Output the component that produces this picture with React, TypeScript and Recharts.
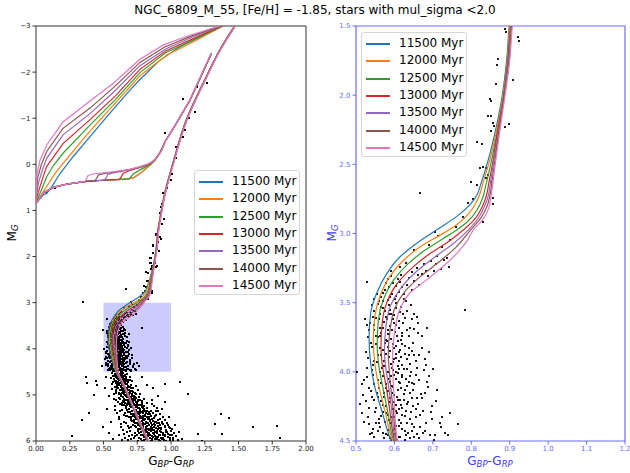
import React from "react";
import { ScatterChart, Scatter, XAxis, YAxis, ReferenceArea } from "recharts";

type P = [number, number];

// isochrone ages and matplotlib tab10 colours
const ages = ["11500 Myr", "12000 Myr", "12500 Myr", "13000 Myr", "13500 Myr", "14000 Myr", "14500 Myr"];
const colors = ["#1f77b4", "#ff7f0e", "#2ca02c", "#d62728", "#9467bd", "#8c564b", "#e377c2"];

// main sequence -> turnoff -> red giant branch, [colour, M_G]
const main11500: P[] = [[0.825,6.0],[0.765,5.62],[0.703,5.18],[0.637,4.75],[0.590,4.49],[0.567,4.28],[0.549,4.11],[0.538,3.94],[0.534,3.75],[0.538,3.58],[0.554,3.43],[0.580,3.29],[0.614,3.17],[0.658,3.07],[0.712,2.97],[0.770,2.86],[0.800,2.78],[0.815,2.72],[0.824,2.65],[0.844,2.47],[0.861,2.28],[0.879,2.03],[0.892,1.75],[0.899,1.50],[0.915,1.21],[0.955,0.60],[1.013,-0.02],[1.112,-0.96],[1.260,-1.90],[1.360,-2.48],[1.470,-3.0]];
const main12000: P[] = [[0.827,6.0],[0.767,5.62],[0.705,5.18],[0.640,4.75],[0.594,4.49],[0.575,4.28],[0.559,4.10],[0.549,3.94],[0.545,3.77],[0.549,3.60],[0.563,3.45],[0.588,3.31],[0.625,3.19],[0.670,3.09],[0.720,3.01],[0.760,2.94],[0.792,2.86],[0.812,2.78],[0.824,2.70],[0.832,2.62],[0.848,2.47],[0.864,2.28],[0.881,2.03],[0.894,1.75],[0.900,1.50],[0.916,1.21],[0.956,0.60],[1.014,-0.02],[1.113,-0.96],[1.261,-1.90],[1.361,-2.48],[1.471,-3.0]];
const main12500: P[] = [[0.829,6.0],[0.769,5.62],[0.707,5.18],[0.642,4.75],[0.597,4.49],[0.582,4.28],[0.569,4.10],[0.559,3.95],[0.555,3.80],[0.558,3.63],[0.571,3.48],[0.597,3.34],[0.635,3.22],[0.680,3.12],[0.725,3.04],[0.762,2.975],[0.792,2.91],[0.815,2.83],[0.830,2.74],[0.838,2.65],[0.852,2.48],[0.866,2.29],[0.883,2.02],[0.895,1.75],[0.902,1.50],[0.917,1.21],[0.957,0.60],[1.015,-0.02],[1.114,-0.96],[1.262,-1.90],[1.362,-2.48],[1.472,-3.0]];
const main13000: P[] = [[0.830,6.0],[0.770,5.62],[0.708,5.18],[0.644,4.75],[0.600,4.49],[0.588,4.28],[0.578,4.10],[0.569,3.96],[0.565,3.82],[0.568,3.65],[0.580,3.50],[0.605,3.37],[0.645,3.25],[0.690,3.15],[0.740,3.06],[0.779,2.975],[0.808,2.90],[0.828,2.81],[0.840,2.72],[0.846,2.63],[0.855,2.50],[0.867,2.29],[0.884,2.02],[0.896,1.75],[0.903,1.50],[0.918,1.21],[0.958,0.60],[1.016,-0.02],[1.115,-0.96],[1.263,-1.90],[1.363,-2.48],[1.473,-3.0]];
const main13500: P[] = [[0.832,6.0],[0.772,5.62],[0.709,5.18],[0.645,4.75],[0.602,4.49],[0.593,4.28],[0.585,4.11],[0.578,3.98],[0.574,3.85],[0.578,3.67],[0.590,3.52],[0.615,3.40],[0.655,3.28],[0.700,3.18],[0.750,3.08],[0.792,2.975],[0.818,2.89],[0.835,2.80],[0.845,2.72],[0.850,2.63],[0.857,2.50],[0.869,2.30],[0.885,2.01],[0.897,1.75],[0.904,1.50],[0.919,1.21],[0.959,0.60],[1.017,-0.02],[1.116,-0.96],[1.264,-1.90],[1.364,-2.48],[1.474,-3.0]];
const main14000: P[] = [[0.834,6.0],[0.774,5.62],[0.711,5.18],[0.646,4.75],[0.605,4.49],[0.597,4.28],[0.590,4.10],[0.586,3.97],[0.584,3.87],[0.589,3.69],[0.601,3.54],[0.627,3.42],[0.668,3.31],[0.714,3.21],[0.760,3.10],[0.798,2.975],[0.824,2.89],[0.840,2.81],[0.849,2.72],[0.855,2.60],[0.859,2.52],[0.870,2.30],[0.886,2.00],[0.898,1.75],[0.905,1.50],[0.920,1.21],[0.960,0.60],[1.018,-0.02],[1.117,-0.96],[1.265,-1.90],[1.365,-2.48],[1.475,-3.0]];
const main14500: P[] = [[0.836,6.0],[0.776,5.62],[0.712,5.18],[0.648,4.75],[0.607,4.49],[0.601,4.28],[0.597,4.08],[0.595,3.89],[0.601,3.70],[0.614,3.55],[0.640,3.43],[0.686,3.33],[0.730,3.23],[0.770,3.12],[0.790,3.05],[0.805,2.975],[0.830,2.90],[0.845,2.82],[0.852,2.72],[0.860,2.55],[0.872,2.30],[0.888,2.00],[0.900,1.75],[0.907,1.50],[0.921,1.21],[0.961,0.60],[1.019,-0.02],[1.118,-0.96],[1.266,-1.90],[1.366,-2.48],[1.476,-3.0]];

// horizontal branch -> AGB
const hb11500: P[] = [[0.0,0.85],[0.054,0.62],[0.128,0.50],[0.227,0.43],[0.375,0.37],[0.523,0.34],[0.672,0.32],[0.725,0.29],[0.775,0.19],[0.815,0.09],[0.845,0.01],[0.875,-0.08],[0.92,-0.26],[0.956,-0.49],[1.04,-0.89],[1.14,-1.39],[1.22,-1.90],[1.30,-2.41]];
const hb12000: P[] = [[0.0,0.85],[0.054,0.62],[0.128,0.50],[0.227,0.43],[0.375,0.37],[0.523,0.34],[0.672,0.32],[0.715,0.30],[0.765,0.21],[0.810,0.10],[0.845,0.02],[0.875,-0.07],[0.92,-0.26],[0.956,-0.49],[1.04,-0.89],[1.14,-1.39],[1.22,-1.90],[1.30,-2.41]];
const hb12500: P[] = [[0.0,0.85],[0.054,0.62],[0.128,0.50],[0.227,0.43],[0.375,0.37],[0.523,0.34],[0.690,0.315],[0.705,0.26],[0.725,0.20],[0.770,0.12],[0.815,0.05],[0.850,-0.01],[0.880,-0.08],[0.92,-0.26],[0.956,-0.49],[1.04,-0.89],[1.14,-1.39],[1.22,-1.90],[1.30,-2.41]];
const hb13000: P[] = [[0.0,0.85],[0.054,0.62],[0.128,0.50],[0.227,0.43],[0.375,0.37],[0.523,0.34],[0.615,0.33],[0.630,0.28],[0.645,0.20],[0.690,0.14],[0.760,0.08],[0.820,0.02],[0.855,-0.04],[0.885,-0.11],[0.92,-0.26],[0.956,-0.49],[1.04,-0.89],[1.14,-1.39],[1.22,-1.90],[1.30,-2.41]];
const hb13500: P[] = [[0.0,0.85],[0.054,0.62],[0.128,0.50],[0.227,0.43],[0.375,0.37],[0.505,0.345],[0.518,0.30],[0.532,0.22],[0.560,0.19],[0.650,0.14],[0.760,0.07],[0.820,0.01],[0.860,-0.05],[0.890,-0.13],[0.92,-0.26],[0.956,-0.49],[1.04,-0.89],[1.14,-1.39],[1.22,-1.90],[1.30,-2.41]];
const hb14000: P[] = [[0.0,0.85],[0.054,0.62],[0.128,0.50],[0.227,0.43],[0.375,0.37],[0.435,0.36],[0.448,0.31],[0.462,0.23],[0.500,0.20],[0.600,0.16],[0.700,0.11],[0.780,0.05],[0.830,0.0],[0.865,-0.06],[0.895,-0.14],[0.925,-0.28],[0.956,-0.49],[1.04,-0.89],[1.14,-1.39],[1.22,-1.90],[1.30,-2.41]];
const hb14500: P[] = [[0.0,0.85],[0.054,0.62],[0.128,0.50],[0.227,0.43],[0.360,0.375],[0.372,0.33],[0.385,0.24],[0.420,0.21],[0.550,0.17],[0.680,0.12],[0.770,0.05],[0.830,-0.01],[0.870,-0.08],[0.900,-0.16],[0.930,-0.30],[0.960,-0.50],[1.04,-0.90],[1.14,-1.40],[1.22,-1.91],[1.30,-2.42]];

// hot upper branches rising from the blue end of the HB
const up11500: P[] = [[0.0,0.85],[0.054,0.66],[0.079,0.63],[0.116,0.49],[0.178,0.20],[0.276,-0.17],[0.40,-0.60],[0.548,-1.11],[0.696,-1.61],[0.77,-1.84],[0.919,-2.26],[1.067,-2.55],[1.215,-2.77],[1.39,-3.0]];
const up12000: P[] = [[0.0,0.85],[0.030,0.70],[0.079,0.48],[0.14,0.20],[0.20,-0.02],[0.40,-0.72],[0.59,-1.34],[0.77,-1.92],[0.97,-2.37],[1.18,-2.68],[1.385,-3.0]];
const up12500: P[] = [[0.0,0.85],[0.015,0.72],[0.040,0.56],[0.079,0.27],[0.13,0.02],[0.20,-0.24],[0.40,-0.85],[0.59,-1.41],[0.77,-1.99],[0.96,-2.42],[1.17,-2.70],[1.38,-3.0]];
const up13000: P[] = [[0.0,0.85],[0.008,0.70],[0.028,0.50],[0.055,0.25],[0.079,0.05],[0.20,-0.45],[0.40,-0.97],[0.59,-1.49],[0.77,-2.06],[0.96,-2.46],[1.16,-2.72],[1.375,-3.0]];
const up13500: P[] = [[0.0,0.85],[0.005,0.65],[0.018,0.40],[0.048,0.12],[0.079,-0.13],[0.20,-0.64],[0.40,-1.10],[0.58,-1.58],[0.77,-2.14],[0.96,-2.50],[1.15,-2.75],[1.37,-3.0]];
const up14000: P[] = [[0.0,0.85],[0.003,0.60],[0.012,0.30],[0.040,0.0],[0.079,-0.28],[0.20,-0.78],[0.40,-1.22],[0.58,-1.68],[0.77,-2.21],[0.95,-2.54],[1.14,-2.77],[1.365,-3.0]];
const up14500: P[] = [[0.0,0.85],[0.002,0.50],[0.008,0.20],[0.030,-0.09],[0.079,-0.42],[0.20,-0.92],[0.375,-1.32],[0.573,-1.76],[0.77,-2.28],[0.944,-2.59],[1.14,-2.80],[1.36,-3.0]];

const mains = [main11500, main12000, main12500, main13000, main13500, main14000, main14500];
const hbs = [hb11500, hb12000, hb12500, hb13000, hb13500, hb14000, hb14500];
const ups = [up11500, up12000, up12500, up13000, up13500, up14000, up14500];

// cluster stars
const starsRgb: P[] = [[0.918,1.06],[0.923,0.92],[0.931,0.85],[0.943,0.63],[0.968,0.52],[1.000,0.34],[1.005,0.20],[1.040,-0.13],[1.037,-0.38],[0.956,-0.67],[1.090,-0.60],[1.100,-0.74],[1.133,-1.00],[1.178,-1.14],[1.170,-1.32],[1.090,-1.42],[1.190,-1.68],[1.240,-1.74],[1.264,-1.77],[0.935,1.30],[0.905,1.42],[0.948,1.18]];
const starsHb: P[] = [[0.074,0.60],[0.140,0.52],[0.090,0.57]];
const starsSgb: P[] = [[0.887,1.52],[0.891,1.54],[0.922,1.58],[0.924,1.61],[0.900,1.68],[0.870,1.74],[0.866,1.78],[0.895,1.83],[0.909,1.89],[0.865,1.92],[0.848,2.03],[0.852,2.04],[0.844,2.15],[0.852,2.15],[0.878,2.14],[0.857,2.20],[0.859,2.22],[0.898,2.21],[0.889,2.23],[0.852,2.26],[0.814,2.34],[0.827,2.35],[0.830,2.52],[0.822,2.53],[0.839,2.53],[0.844,2.58],[0.839,2.60],[0.852,2.63],[0.800,2.63],[0.814,2.65],[0.857,2.74],[0.805,2.75],[0.792,2.78],[0.857,2.79],[0.666,2.71],[0.779,2.88],[0.830,2.92],[0.705,2.99],[0.714,3.02],[0.760,2.95],[0.745,3.05],[0.690,3.08],[0.650,3.12],[0.725,3.10]];
const starsTurnoff: P[] = [
  [0.712,3.16],[0.728,3.19],[0.695,3.20],[0.741,3.24],[0.676,3.22],[0.660,3.25],[0.702,3.27],[0.645,3.28],[0.631,3.21],[0.618,3.30],[0.688,3.31],[0.609,3.33],[0.652,3.34],[0.597,3.36],[0.634,3.37],[0.585,3.39],[0.671,3.29],[0.722,3.26],[0.615,3.24],[0.590,3.31],
  [0.528,3.35],[0.576,3.41],[0.594,3.44],[0.566,3.46],[0.612,3.42],[0.583,3.48],[0.557,3.51],[0.603,3.50],[0.626,3.47],[0.571,3.54],[0.548,3.56],[0.589,3.55],[0.563,3.58],[0.615,3.57],[0.598,3.59],[0.642,3.52],[0.579,3.60],[0.555,3.44],[0.620,3.39],[0.783,3.55],
  [0.537,3.65],[0.528,3.66],[0.561,3.62],[0.574,3.64],[0.589,3.67],[0.601,3.71],[0.623,3.65],[0.583,3.70],[0.566,3.72],[0.546,3.70],[0.532,3.75],[0.563,3.74],[0.592,3.76],[0.608,3.78],[0.575,3.79],[0.553,3.80],[0.638,3.74],[0.584,3.82],[0.599,3.83],[0.570,3.84],[0.614,3.84],[0.526,3.86],[0.548,3.66],[0.612,3.63],[0.595,3.62],[0.651,3.69],[0.579,3.77],
  [0.627,3.87],[0.558,3.88],[0.586,3.89],[0.604,3.90],[0.632,3.91],[0.573,3.92],[0.591,3.94],[0.683,3.95],[0.658,3.97],[0.545,3.95],[0.567,3.97],[0.612,3.98],[0.597,3.99],[0.582,4.00],[0.502,4.00],[0.621,4.02],[0.640,4.03],[0.528,4.04],[0.571,4.03],[0.556,4.06],[0.603,4.05],[0.588,4.07],[0.615,4.08],[0.664,4.06],[0.515,4.09],[0.579,4.09],[0.632,4.10],[0.548,3.92],[0.595,3.93],[0.640,3.94],[0.608,3.96],
  [0.596,4.11],[0.561,4.12],[0.610,4.13],[0.583,4.14],[0.649,4.13],[0.573,4.15],[0.626,4.16],[0.519,4.17],[0.600,4.17],[0.541,4.18],[0.589,4.19],[0.615,4.20],[0.672,4.19],[0.566,4.21],[0.636,4.22],[0.632,4.23],[0.510,4.23],[0.604,4.24],[0.578,4.25],[0.552,4.26],[0.620,4.26],[0.593,4.27],[0.655,4.27],[0.569,4.29],[0.606,4.30],[0.515,4.30],[0.642,4.29],[0.584,4.31],
  [0.627,4.32],[0.598,4.33],[0.560,4.34],[0.613,4.35],[0.575,4.36],[0.666,4.40],[0.590,4.37],[0.645,4.38],[0.766,4.38],[0.534,4.38],[0.605,4.39],[0.621,4.41],[0.582,4.42],[0.558,4.43],[0.636,4.44],[0.600,4.45],[0.537,4.45],[0.706,4.46],[0.740,4.46],[0.615,4.47],[0.572,4.48],[0.651,4.47],[0.592,4.49],[0.628,4.49],[0.545,4.41],[0.680,4.43]
];
const starsTurnoff2: P[] = [[0.604,3.45],[0.631,3.49],[0.617,3.53],[0.652,3.58],[0.628,3.61],[0.605,3.66],[0.641,3.68],[0.662,3.72],[0.619,3.72],[0.596,3.80],[0.627,3.81],[0.648,3.79],[0.671,3.83],[0.612,3.86],[0.637,3.88],[0.598,3.91],[0.655,3.92],[0.621,3.95],[0.676,3.99],[0.643,4.00],[0.609,4.01],[0.630,4.05],[0.652,4.09],[0.594,4.10],[0.618,4.12],[0.688,4.11],[0.640,4.15],[0.607,4.18],[0.659,4.19],[0.625,4.20],[0.586,4.22],[0.648,4.25],[0.612,4.27],[0.697,4.25],[0.631,4.28],[0.667,4.31],[0.592,4.33],[0.640,4.34],[0.616,4.37],[0.683,4.37],[0.652,4.40],[0.602,4.41],[0.628,4.43],[0.571,4.44],[0.660,4.45],[0.611,4.47],[0.640,4.48],[0.721,4.40],[0.699,4.34],[0.547,4.20],[0.535,4.12],[0.528,3.97],[0.541,3.82],[0.552,3.74],[0.543,3.60],[0.569,3.49],[0.586,3.52],[0.563,3.68],[0.577,3.87],[0.563,4.00],[0.574,4.18],[0.561,4.37],[0.590,4.03],[0.603,3.87],[0.584,3.73],[0.622,3.58],[0.577,4.30],[0.555,4.15],[0.600,4.22],[0.582,4.46],[0.646,4.08],[0.669,4.16],[0.634,3.98],[0.616,3.77],[0.592,3.58],[0.708,4.21],[0.690,4.03],[0.663,3.88],[0.675,4.44],[0.548,4.47],[0.534,4.26],[0.520,4.36],[0.598,4.27],[0.624,4.16],[0.611,4.07]];
const starsTurnoff3: P[] = [
  [0.578,3.36],[0.592,3.27],[0.604,3.38],[0.639,3.32],[0.662,3.30],[0.571,3.43],[0.588,3.46],[0.624,3.44],[0.647,3.41],[0.560,3.49],[0.601,3.47],[0.683,3.27],[0.707,3.22],[0.737,3.18],[0.663,3.37],[0.615,3.35],[0.548,3.47],[0.582,3.33],
  [0.541,3.52],[0.566,3.53],[0.586,3.58],[0.604,3.54],[0.632,3.56],[0.552,3.61],[0.570,3.68],[0.594,3.70],[0.611,3.68],[0.633,3.70],[0.535,3.70],[0.558,3.75],[0.580,3.62],[0.645,3.62],[0.620,3.74],[0.662,3.65],[0.524,3.62],[0.599,3.65],[0.576,3.56],[0.606,3.74],
  [0.538,3.79],[0.562,3.83],[0.581,3.78],[0.603,3.81],[0.620,3.80],[0.645,3.85],[0.531,3.90],[0.555,3.93],[0.572,3.96],[0.589,3.85],[0.612,3.92],[0.626,3.98],[0.652,3.88],[0.679,3.91],[0.541,3.99],[0.593,3.97],[0.637,3.83],[0.566,3.88],[0.604,4.00],[0.617,3.89],
  [0.521,4.06],[0.545,4.02],[0.566,4.08],[0.583,4.05],[0.598,4.02],[0.619,4.04],[0.637,4.07],[0.655,4.02],[0.538,4.14],[0.557,4.18],[0.579,4.12],[0.593,4.15],[0.610,4.20],[0.628,4.13],[0.645,4.19],[0.662,4.23],[0.526,4.21],[0.571,4.24],[0.589,4.22],[0.617,4.24],[0.679,4.15],[0.548,4.09],
  [0.530,4.33],[0.549,4.29],[0.565,4.32],[0.586,4.35],[0.603,4.28],[0.619,4.31],[0.634,4.37],[0.655,4.33],[0.674,4.28],[0.541,4.44],[0.563,4.40],[0.578,4.45],[0.596,4.42],[0.611,4.39],[0.629,4.46],[0.646,4.43],[0.664,4.48],[0.693,4.46],[0.552,4.37],[0.588,4.48],[0.606,4.49],[0.724,4.33],
  [0.672,3.74],[0.690,3.86],[0.701,3.98],[0.684,4.07],[0.712,4.13],[0.695,4.29],[0.718,4.37],[0.731,4.44],[0.686,3.68],[0.659,3.60],[0.702,4.49],[0.745,4.30]
];
const starsMs: P[] = [
  [0.561,4.52],[0.603,4.51],[0.628,4.53],[0.645,4.52],[0.587,4.54],[0.614,4.55],[0.672,4.55],[0.596,4.57],[0.632,4.57],[0.571,4.58],[0.655,4.59],[0.611,4.60],[0.589,4.61],[0.640,4.61],[0.697,4.62],[0.557,4.63],[0.622,4.63],[0.603,4.64],[0.668,4.65],[0.581,4.66],[0.636,4.67],[0.614,4.68],[0.594,4.69],[0.651,4.69],[0.711,4.70],[0.572,4.71],[0.628,4.71],[0.608,4.72],[0.684,4.73],[0.645,4.74],[0.590,4.74],[0.619,4.75],
  [0.634,4.76],[0.662,4.76],[0.598,4.77],[0.701,4.78],[0.647,4.78],[0.615,4.79],[0.680,4.80],[0.628,4.81],[0.742,4.81],[0.585,4.82],[0.659,4.83],[0.694,4.83],[0.611,4.84],[0.641,4.85],[0.722,4.86],[0.603,4.86],[0.670,4.87],[0.653,4.88],[0.565,4.88],[0.689,4.89],[0.626,4.90],[0.758,4.90],[0.711,4.91],[0.642,4.92],[0.596,4.93],[0.675,4.93],[0.660,4.94],[0.731,4.95],[0.618,4.96],[0.699,4.96],[0.580,4.97],[0.683,4.98],[0.649,4.99],[0.771,4.99],
  [0.692,5.01],[0.658,5.01],[0.724,5.02],[0.630,5.03],[0.705,5.04],[0.761,5.04],[0.676,5.05],[0.612,5.06],[0.741,5.06],[0.688,5.07],[0.649,5.08],[0.799,5.08],[0.714,5.09],[0.667,5.10],[0.733,5.11],[0.596,5.11],[0.701,5.12],[0.782,5.13],[0.641,5.13],[0.753,5.14],[0.684,5.15],[0.722,5.16],[0.661,5.17],[0.819,5.17],[0.709,5.18],[0.625,5.19],[0.745,5.19],[0.692,5.20],[0.768,5.21],[0.673,5.22],[0.735,5.22],[0.654,5.23],[0.715,5.24],[0.802,5.24],[0.586,5.25],
  [0.741,5.26],[0.702,5.26],[0.782,5.27],[0.667,5.28],[0.759,5.29],[0.821,5.29],[0.725,5.30],[0.688,5.31],[0.797,5.32],[0.744,5.33],[0.640,5.33],[0.851,5.34],[0.770,5.35],[0.712,5.35],[0.806,5.36],[0.679,5.37],[0.755,5.38],[0.733,5.39],[0.868,5.39],[0.790,5.40],[0.701,5.41],[0.827,5.42],[0.762,5.42],[0.655,5.43],[0.744,5.44],[0.809,5.45],[0.722,5.46],[0.884,5.46],[0.777,5.47],[0.690,5.48],[0.840,5.48],[0.757,5.49],[0.615,5.47],[0.795,5.50],
  [0.781,5.51],[0.826,5.52],[0.742,5.52],[0.861,5.53],[0.703,5.54],[0.800,5.55],[0.907,5.55],[0.765,5.56],[0.842,5.57],[0.726,5.58],[0.818,5.58],[0.880,5.59],[0.789,5.60],[0.668,5.61],[0.853,5.61],[0.752,5.62],[0.936,5.62],[0.811,5.63],[0.873,5.64],[0.716,5.65],[0.835,5.65],[0.792,5.66],[0.959,5.67],[0.768,5.68],[0.902,5.68],[0.852,5.69],[0.741,5.70],[0.818,5.71],[0.887,5.72],[0.688,5.72],[0.796,5.73],[0.926,5.74],[0.862,5.74],[0.633,5.70],
  [0.835,5.76],[0.872,5.76],[0.790,5.77],[0.915,5.78],[0.756,5.79],[0.851,5.79],[0.968,5.80],[0.812,5.81],[0.893,5.82],[0.731,5.82],[0.864,5.83],[0.939,5.84],[0.827,5.85],[0.780,5.86],[0.908,5.86],[0.995,5.87],[0.848,5.88],[0.712,5.88],[0.882,5.89],[0.954,5.90],[0.803,5.91],[0.870,5.92],[0.926,5.93],[0.761,5.93],[0.841,5.94],[1.012,5.94],[0.897,5.95],[0.818,5.96],[0.948,5.97],[0.683,5.97],[0.862,5.98],[0.785,5.99],[0.918,5.99]
];
const starsMs2: P[] = [
  [0.600,4.53],[0.620,4.56],[0.643,4.58],[0.579,4.60],[0.627,4.62],[0.663,4.61],[0.606,4.66],[0.645,4.64],[0.681,4.68],[0.599,4.71],[0.637,4.72],[0.662,4.72],[0.618,4.77],[0.650,4.80],[0.686,4.82],[0.603,4.80],[0.636,4.84],[0.671,4.85],[0.712,4.86],[0.620,4.89],[0.658,4.90],[0.696,4.92],[0.638,4.95],[0.674,4.97],[0.709,4.98],[0.612,4.99],
  [0.675,5.02],[0.710,5.03],[0.645,5.05],[0.728,5.07],[0.695,5.09],[0.756,5.10],[0.662,5.12],[0.720,5.13],[0.687,5.16],[0.748,5.17],[0.640,5.17],[0.702,5.20],[0.730,5.21],[0.785,5.21],[0.667,5.24],[0.750,5.25],
  [0.722,5.27],[0.765,5.28],[0.690,5.30],[0.803,5.31],[0.740,5.32],[0.713,5.36],[0.783,5.37],[0.836,5.38],[0.660,5.39],[0.749,5.41],[0.805,5.43],[0.727,5.44],[0.772,5.45],[0.852,5.45],[0.700,5.47],[0.790,5.48],[0.736,5.49],
  [0.760,5.51],[0.808,5.53],[0.725,5.55],[0.845,5.55],[0.782,5.57],[0.889,5.58],[0.745,5.60],[0.829,5.60],[0.800,5.63],[0.775,5.64],[0.858,5.66],[0.921,5.66],[0.735,5.68],[0.814,5.69],[0.874,5.70],[0.781,5.72],[0.842,5.73],[0.755,5.74],[0.901,5.75],
  [0.815,5.77],[0.852,5.78],[0.887,5.80],[0.775,5.80],[0.928,5.81],[0.834,5.83],[0.872,5.85],[0.801,5.84],[0.957,5.86],[0.745,5.87],[0.858,5.90],[0.905,5.91],[0.822,5.92],[0.978,5.92],[0.884,5.96],[0.930,5.95],[0.800,5.97],[0.850,5.99],[0.963,5.99],[0.725,5.94]
];
const starsMs3: P[] = [
  [0.585,4.56],[0.607,4.58],[0.636,4.55],[0.660,4.57],[0.616,4.64],[0.652,4.66],[0.583,4.69],[0.627,4.68],[0.670,4.70],[0.602,4.74],[0.657,4.75],[0.693,4.67],
  [0.610,4.78],[0.644,4.79],[0.673,4.77],[0.627,4.83],[0.660,4.86],[0.700,4.86],[0.594,4.89],[0.640,4.89],[0.675,4.90],[0.717,4.93],[0.652,4.96],[0.688,4.95],[0.629,4.98],[0.738,4.98],
  [0.664,5.03],[0.698,5.05],[0.735,5.04],[0.625,5.09],[0.680,5.10],[0.717,5.11],[0.768,5.11],[0.652,5.15],[0.697,5.15],[0.738,5.16],[0.677,5.19],[0.723,5.20],[0.757,5.23],[0.634,5.23],[0.695,5.24],[0.786,5.18],
  [0.706,5.27],[0.748,5.27],[0.792,5.29],[0.675,5.32],[0.730,5.33],[0.770,5.31],[0.821,5.35],[0.697,5.37],[0.742,5.37],[0.790,5.36],[0.718,5.41],[0.769,5.40],[0.812,5.40],[0.672,5.45],[0.736,5.45],[0.794,5.45],[0.842,5.42],[0.759,5.49],[0.823,5.49],[0.706,5.50],
  [0.739,5.53],[0.792,5.53],[0.839,5.53],[0.713,5.57],[0.771,5.58],[0.866,5.57],[0.812,5.60],[0.732,5.62],[0.782,5.63],[0.850,5.62],[0.895,5.61],[0.757,5.66],[0.824,5.67],[0.884,5.66],[0.707,5.69],[0.795,5.70],[0.857,5.71],[0.771,5.74],[0.830,5.74],[0.912,5.71],
  [0.797,5.77],[0.856,5.77],[0.895,5.78],[0.765,5.82],[0.822,5.81],[0.880,5.81],[0.944,5.83],[0.790,5.86],[0.848,5.86],[0.917,5.88],[0.735,5.90],[0.833,5.90],[0.888,5.92],[0.941,5.93],[0.775,5.95],[0.861,5.95],[0.910,5.97],[0.990,5.97],[0.826,5.99],[0.755,5.99]
];
// edges of the main-sequence cloud, red side and blue side
const starsMsEdge: P[] = [
  [0.905,5.35],[0.921,5.41],[0.897,5.28],[0.938,5.47],[0.952,5.55],[0.918,5.52],[0.971,5.60],[0.944,5.64],[0.982,5.70],[0.960,5.76],[0.997,5.79],[1.021,5.83],[0.975,5.85],[1.038,5.90],[0.990,5.93],[1.050,5.97],[1.016,5.98],[0.933,5.58],[0.955,5.69],[0.912,5.62],[0.966,5.81],[0.942,5.88],[0.978,5.66],[1.004,5.75],[0.928,5.72],[0.887,5.36],[0.872,5.25],[0.858,5.19],[0.891,5.44],[0.876,5.50],
  [0.612,5.52],[0.628,5.64],[0.645,5.76],[0.655,5.85],[0.662,5.93],[0.640,5.98],[0.600,5.40],[0.588,5.33],[0.620,5.36],[0.673,5.80],[0.686,5.90],[0.650,5.58],[0.606,5.15],[0.575,5.08],[0.590,4.95],[0.566,4.77],[0.681,5.67],[0.697,5.78],[0.705,5.95],[0.667,5.46]
];
const starsWide: P[] = [[0.520,4.62],[0.508,4.85],[0.541,5.02],[0.527,5.30],[0.555,5.58],[0.538,5.82],[0.572,5.95],[0.498,5.70],[0.612,5.88],[0.905,5.02],[0.868,4.85],[0.932,5.30],[0.985,5.48],[1.033,5.65],[1.058,5.80],[0.991,5.72],[1.085,5.95],[0.955,5.15],[1.005,5.88],[0.824,4.78],[0.861,5.12],[0.785,4.62]];
const starsOutliers: P[] = [[0.346,2.98],[0.370,4.61],[0.380,4.75],[0.444,4.69],[0.450,4.78],[0.430,5.00],[0.395,5.40],[0.338,5.55],[0.264,5.90],[0.487,4.38],[0.494,3.60],[0.956,4.77],[1.067,4.72],[1.128,4.98],[1.202,5.85],[1.230,5.99],[1.326,5.63],[1.368,5.42],[1.432,5.51],[1.375,5.84],[1.610,5.69],[1.787,5.68],[1.807,5.94]];

const leftXTicks = [0, 0.25, 0.5, 0.75, 1.0, 1.25, 1.5, 1.75, 2.0];
const leftYTicks = [-3, -2, -1, 0, 1, 2, 3, 4, 5, 6];
const rightXTicks = [0.5, 0.6, 0.7, 0.8, 0.9, 1.0, 1.1, 1.2];
const rightYTicks = [1.5, 2.0, 2.5, 3.0, 3.5, 4.0, 4.5];

const FONT = "DejaVu Sans";
const toXY = (pts: P[]) => pts.map(([x, y]) => ({ x, y }));
const allStars = toXY([
  ...starsRgb, ...starsHb, ...starsSgb, ...starsTurnoff, ...starsTurnoff2, ...starsTurnoff3,
  ...starsMs, ...starsMs2, ...starsMs3, ...starsMsEdge, ...starsWide, ...starsOutliers,
]);
const minus = (v: number) => (v < 0 ? "\u2212" + Math.abs(v) : String(v));

const noDot = () => <g />;
// snap star squares to the pixel grid so they stay crisp and black
const starShape = (s: number, fill: string) => (p: any) => (
  <rect x={Math.round(p.cx - s / 2)} y={Math.round(p.cy - s / 2)} width={s} height={s} fill={fill} shapeRendering="crispEdges" />
);

function isoScatter(key: string, pts: P[], color: string, curve: any) {
  return (
    <Scatter
      key={key}
      data={toXY(pts)}
      fill={color}
      line={{ stroke: color, strokeWidth: 1.2 }}
      lineJointType={curve}
      shape={noDot}
      isAnimationActive={false}
    />
  );
}

function LegendBox({ left, top }: { left: number; top: number }) {
  return (
    <div
      style={{
        position: "absolute", left, top, width: 106, height: 125,
        border: "1px solid #d6d6d6", borderRadius: 3, background: "rgba(255,255,255,0.85)",
        boxSizing: "border-box", fontFamily: FONT,
      }}
    >
      {ages.map((a, i) => (
        <div key={a} style={{ position: "absolute", left: 0, top: Math.round(10 + i * 17.3), width: "100%" }}>
          <div style={{ position: "absolute", left: 4, top: 0, width: 24, height: 1.5, background: colors[i] }} />
          <div style={{ position: "absolute", left: 37, top: -7, fontSize: 12, lineHeight: "15px", whiteSpace: "nowrap", color: "#000" }}>{a}</div>
        </div>
      ))}
    </div>
  );
}

function LeftPanel() {
  const axisTick = { fontSize: 7, fill: "#222", fontFamily: FONT };
  return (
    <ScatterChart width={320} height={473} margin={{ top: 26, right: 14, bottom: 12, left: 10 }}>
      <XAxis type="number" dataKey="x" domain={[0, 2]} ticks={leftXTicks} interval={0} allowDataOverflow
        tickFormatter={(v: number) => v.toFixed(2)} axisLine={false} tickSize={3.5} tickLine={{ stroke: "#333" }}
        tick={axisTick} height={20} />
      <YAxis type="number" dataKey="y" domain={[-3, 6]} reversed ticks={leftYTicks} interval={0} allowDataOverflow
        tickFormatter={minus} axisLine={false} tickSize={3.5} tickLine={{ stroke: "#333" }} tick={axisTick} width={26} />
      <ReferenceArea x1={0.5} x2={1.0} y1={3} y2={4.5} fill="#0000ff" fillOpacity={0.2} stroke="none" />
      <Scatter data={allStars} shape={starShape(2, "#000")} isAnimationActive={false} />
      {colors.map((c, i) => [
        isoScatter("hb" + i, hbs[i], c, "linear"),
        isoScatter("up" + i, ups[i], c, "linear"),
        isoScatter("ms" + i, mains[i].slice().reverse(), c, "monotoneY"),
      ])}
      <ReferenceArea x1={0} x2={2} y1={-3} y2={6} fill="none" stroke="#333" strokeWidth={1} />
    </ScatterChart>
  );
}

function RightPanel() {
  const blue = "#6a6aff";
  const axisTick = { fontSize: 7, fill: blue, fontFamily: FONT };
  return (
    <ScatterChart width={300} height={473} margin={{ top: 26, right: 5, bottom: 12, left: 0 }}>
      <XAxis type="number" dataKey="x" domain={[0.5, 1.2]} ticks={rightXTicks} interval={0} allowDataOverflow
        tickFormatter={(v: number) => v.toFixed(1)} axisLine={false} tickSize={3.5} tickLine={{ stroke: blue }}
        tick={axisTick} height={20} />
      <YAxis type="number" dataKey="y" domain={[1.5, 4.5]} reversed ticks={rightYTicks} interval={0} allowDataOverflow
        tickFormatter={(v: number) => v.toFixed(1)} axisLine={false} tickSize={3.5} tickLine={{ stroke: blue }}
        tick={axisTick} width={26} />
      <Scatter data={allStars} shape={starShape(2, "#1a1a1a")} isAnimationActive={false} />
      {colors.map((c, i) => isoScatter("r" + i, mains[i].slice().reverse(), c, "monotoneY"))}
      <ReferenceArea x1={0.5} x2={1.2} y1={1.5} y2={4.5} fill="none" stroke={blue} strokeWidth={1.2} />
    </ScatterChart>
  );
}

const sub: React.CSSProperties = { fontSize: 8.5, fontStyle: "italic", verticalAlign: "-2px" };

export default function App() {
  return (
    <div style={{ position: "absolute", left: 0, top: 0, width: 630, height: 473, background: "#fff", fontFamily: FONT }}>
      <div style={{ position: "absolute", left: 0, top: 3, width: 630, textAlign: "center", fontSize: 12 }}>
        NGC_6809_M_55, [Fe/H] = -1.85, stars with mul_sigma &lt;2.0
      </div>
      <div style={{ position: "absolute", left: 0, top: 0 }}>
        <LeftPanel />
      </div>
      <div style={{ position: "absolute", left: 330, top: 0 }}>
        <RightPanel />
      </div>
      <LegendBox left={194} top={170} />
      <LegendBox left={361} top={32} />
      {/* axis labels */}
      <div style={{ position: "absolute", left: 12, top: 233, transform: "translate(-50%,-50%) rotate(-90deg)", fontSize: 12, whiteSpace: "nowrap" }}>
        M<span style={sub}>G</span>
      </div>
      <div style={{ position: "absolute", left: 171, top: 461, transform: "translate(-50%,-50%)", fontSize: 12, whiteSpace: "nowrap" }}>
        G<span style={sub}>BP</span>-G<span style={sub}>RP</span>
      </div>
      <div style={{ position: "absolute", left: 332, top: 233, transform: "translate(-50%,-50%) rotate(-90deg)", fontSize: 12, whiteSpace: "nowrap", color: "#3c3cff" }}>
        M<span style={sub}>G</span>
      </div>
      <div style={{ position: "absolute", left: 490, top: 461, transform: "translate(-50%,-50%)", fontSize: 12, whiteSpace: "nowrap", color: "#3c3cff" }}>
        G<span style={sub}>BP</span>-G<span style={sub}>RP</span>
      </div>
    </div>
  );
}
